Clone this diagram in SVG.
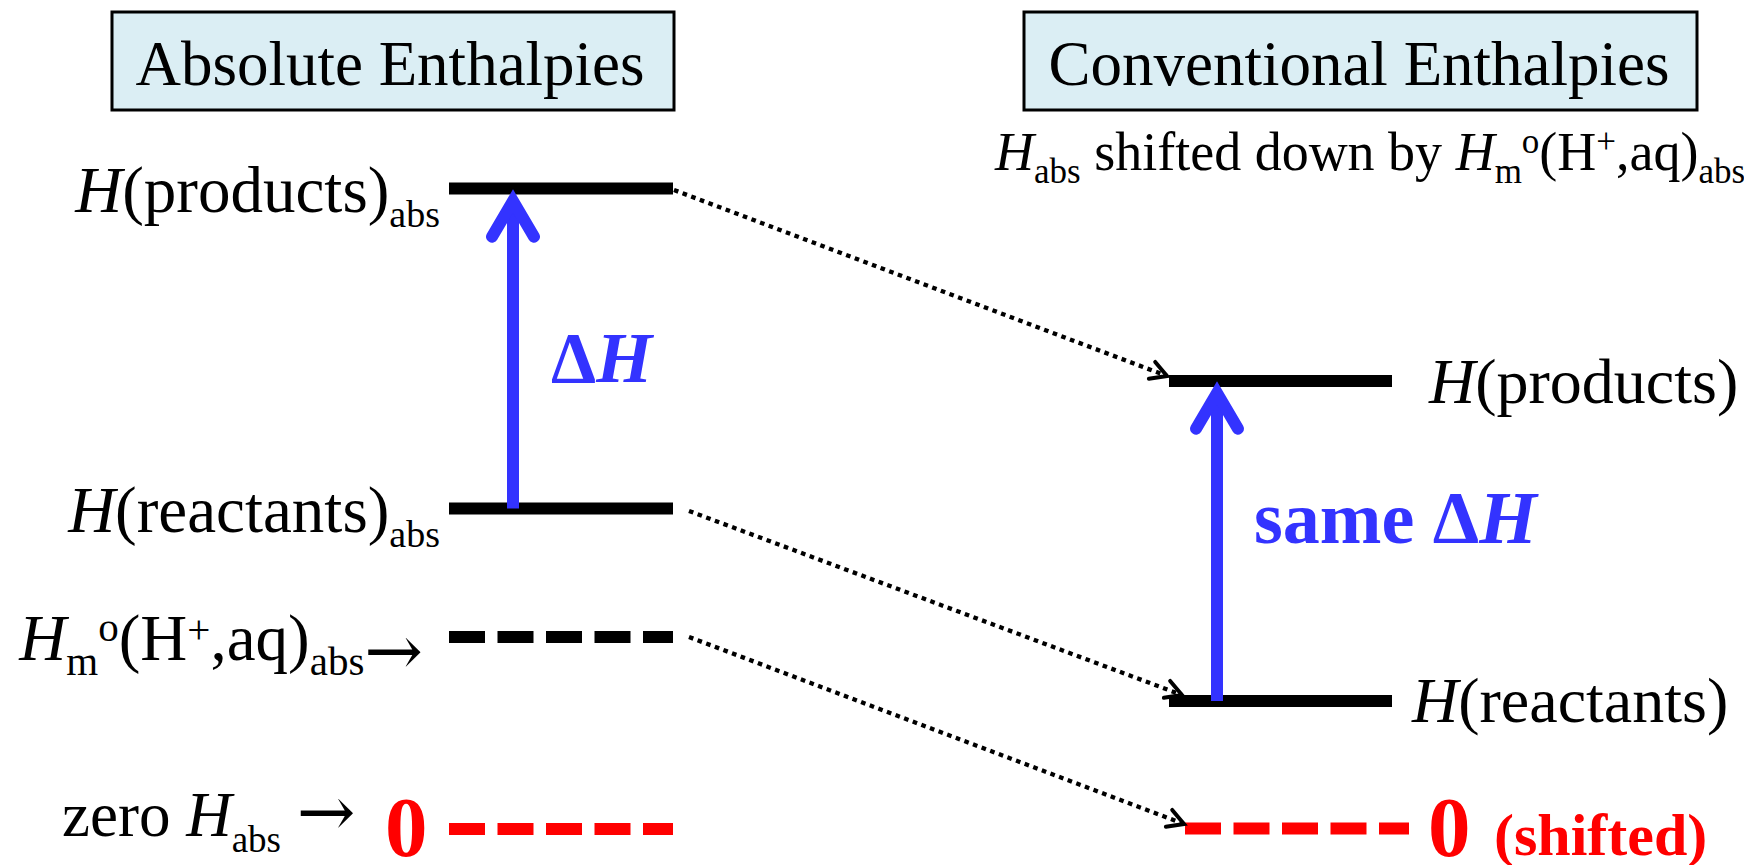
<svg xmlns="http://www.w3.org/2000/svg" width="1744" height="865" viewBox="0 0 1744 865">
<style>
text{font-family:"Liberation Serif","Times New Roman",serif;fill:#000}
.it{font-style:italic}
.arr{font-family:"DejaVu Serif","DejaVu Sans",serif;font-size:70px}
.title-box{fill:#DBEEF4;stroke:#000;stroke-width:3}
.lvl{stroke:#000;stroke-width:12;fill:none}
.dash{stroke-dasharray:36 12.5}
.red{stroke:#FF0000}
.blue{stroke:#3333FF;stroke-width:12;fill:none}
.bhead{stroke:#3333FF;stroke-width:12;fill:none;stroke-linecap:round;stroke-linejoin:miter;stroke-miterlimit:10}
.dot{stroke:#000;stroke-width:4.3;fill:none;stroke-dasharray:4.6 4.6}
.btxt{font-weight:bold;fill:#3333FF}
.rtxt{font-weight:bold;fill:#FF0000}
</style>
<defs>
<marker id="ah" markerUnits="userSpaceOnUse" markerWidth="40" markerHeight="40" viewBox="-25 -20 40 40" refX="0" refY="0" orient="auto" overflow="visible">
<path d="M-16,-9 L0,0 L-16,9" fill="none" stroke="#000" stroke-width="4" stroke-linecap="round" stroke-linejoin="miter" stroke-dasharray="none"/>
</marker>
</defs>

<g id="title-absolute">
<rect class="title-box" x="112" y="12" width="562" height="98"/>
<text x="390" y="85" font-size="63" text-anchor="middle">Absolute Enthalpies</text>
</g>

<g id="title-conventional">
<rect class="title-box" x="1024" y="12" width="673" height="98"/>
<text x="1359" y="85" font-size="63" text-anchor="middle">Conventional Enthalpies</text>
</g>

<g id="subtitle">
<text x="995" y="170" font-size="54"><tspan class="it">H</tspan><tspan font-size="35" dy="13">abs</tspan><tspan dy="-13"> shifted down by </tspan><tspan class="it">H</tspan><tspan font-size="35" dy="13">m</tspan><tspan font-size="35" dy="-30">o</tspan><tspan dy="17">(H</tspan><tspan font-size="35" dy="-17">+</tspan><tspan dy="17">,aq)</tspan><tspan font-size="35" dy="13">abs</tspan></text>
</g>

<g id="abs-products">
<line class="lvl" x1="449" y1="188.5" x2="673" y2="188.5"/>
<text x="440" y="212" font-size="65" text-anchor="end"><tspan class="it">H</tspan>(products)<tspan font-size="38" dy="15">abs</tspan></text>
</g>

<g id="abs-reactants">
<line class="lvl" x1="449" y1="508.5" x2="673" y2="508.5"/>
<text x="440" y="532" font-size="65" text-anchor="end"><tspan class="it">H</tspan>(reactants)<tspan font-size="38" dy="15">abs</tspan></text>
</g>

<g id="abs-hplus">
<line class="lvl dash" x1="449" y1="637" x2="673" y2="637"/>
<text x="423" y="660" font-size="65" text-anchor="end"><tspan class="it">H</tspan><tspan font-size="41" dy="15">m</tspan><tspan font-size="41" dy="-34">o</tspan><tspan dy="19">(H</tspan><tspan font-size="41" dy="-17">+</tspan><tspan dy="17">,aq)</tspan><tspan font-size="41" dy="15">abs</tspan><tspan class="arr">→</tspan></text>
</g>

<g id="abs-zero">
<line class="lvl dash red" x1="449" y1="829" x2="673" y2="829"/>
<text x="62" y="836" font-size="63">zero <tspan class="it">H</tspan><tspan font-size="37" dy="16">abs</tspan><tspan dy="-16"> </tspan><tspan class="arr">→</tspan></text>
<text class="rtxt" x="385" y="856" font-size="85">0</text>
</g>

<g id="conv-products">
<line class="lvl" x1="1169" y1="381" x2="1392" y2="381"/>
<text x="1429" y="403" font-size="64"><tspan class="it">H</tspan>(products)</text>
</g>

<g id="conv-reactants">
<line class="lvl" x1="1169" y1="701" x2="1392" y2="701"/>
<text x="1412" y="722" font-size="64"><tspan class="it">H</tspan>(reactants)</text>
</g>

<g id="conv-zero">
<line class="lvl dash red" x1="1185" y1="828.5" x2="1409" y2="828.5"/>
<text class="rtxt" x="1428" y="856" font-size="85">0</text>
<text class="rtxt" x="1494" y="855" font-size="60">(shifted)</text>
</g>

<g id="delta-abs">
<line class="blue" x1="513" y1="508.5" x2="513" y2="205"/>
<polyline class="bhead" points="492,236.7 513,201 534,236.7"/>
<text class="btxt" x="551" y="382" font-size="72">Δ<tspan class="it">H</tspan></text>
</g>

<g id="delta-conv">
<line class="blue" x1="1217" y1="701" x2="1217" y2="397"/>
<polyline class="bhead" points="1196,428.7 1217,393 1238,428.7"/>
<text class="btxt" x="1254" y="543" font-size="74">same Δ<tspan class="it">H</tspan></text>
</g>

<g id="connectors">
<line class="dot" x1="674" y1="190" x2="1167" y2="376" marker-end="url(#ah)"/>
<line class="dot" x1="689" y1="511" x2="1182" y2="695" marker-end="url(#ah)"/>
<line class="dot" x1="689" y1="637" x2="1184" y2="824" marker-end="url(#ah)"/>
</g>
</svg>
